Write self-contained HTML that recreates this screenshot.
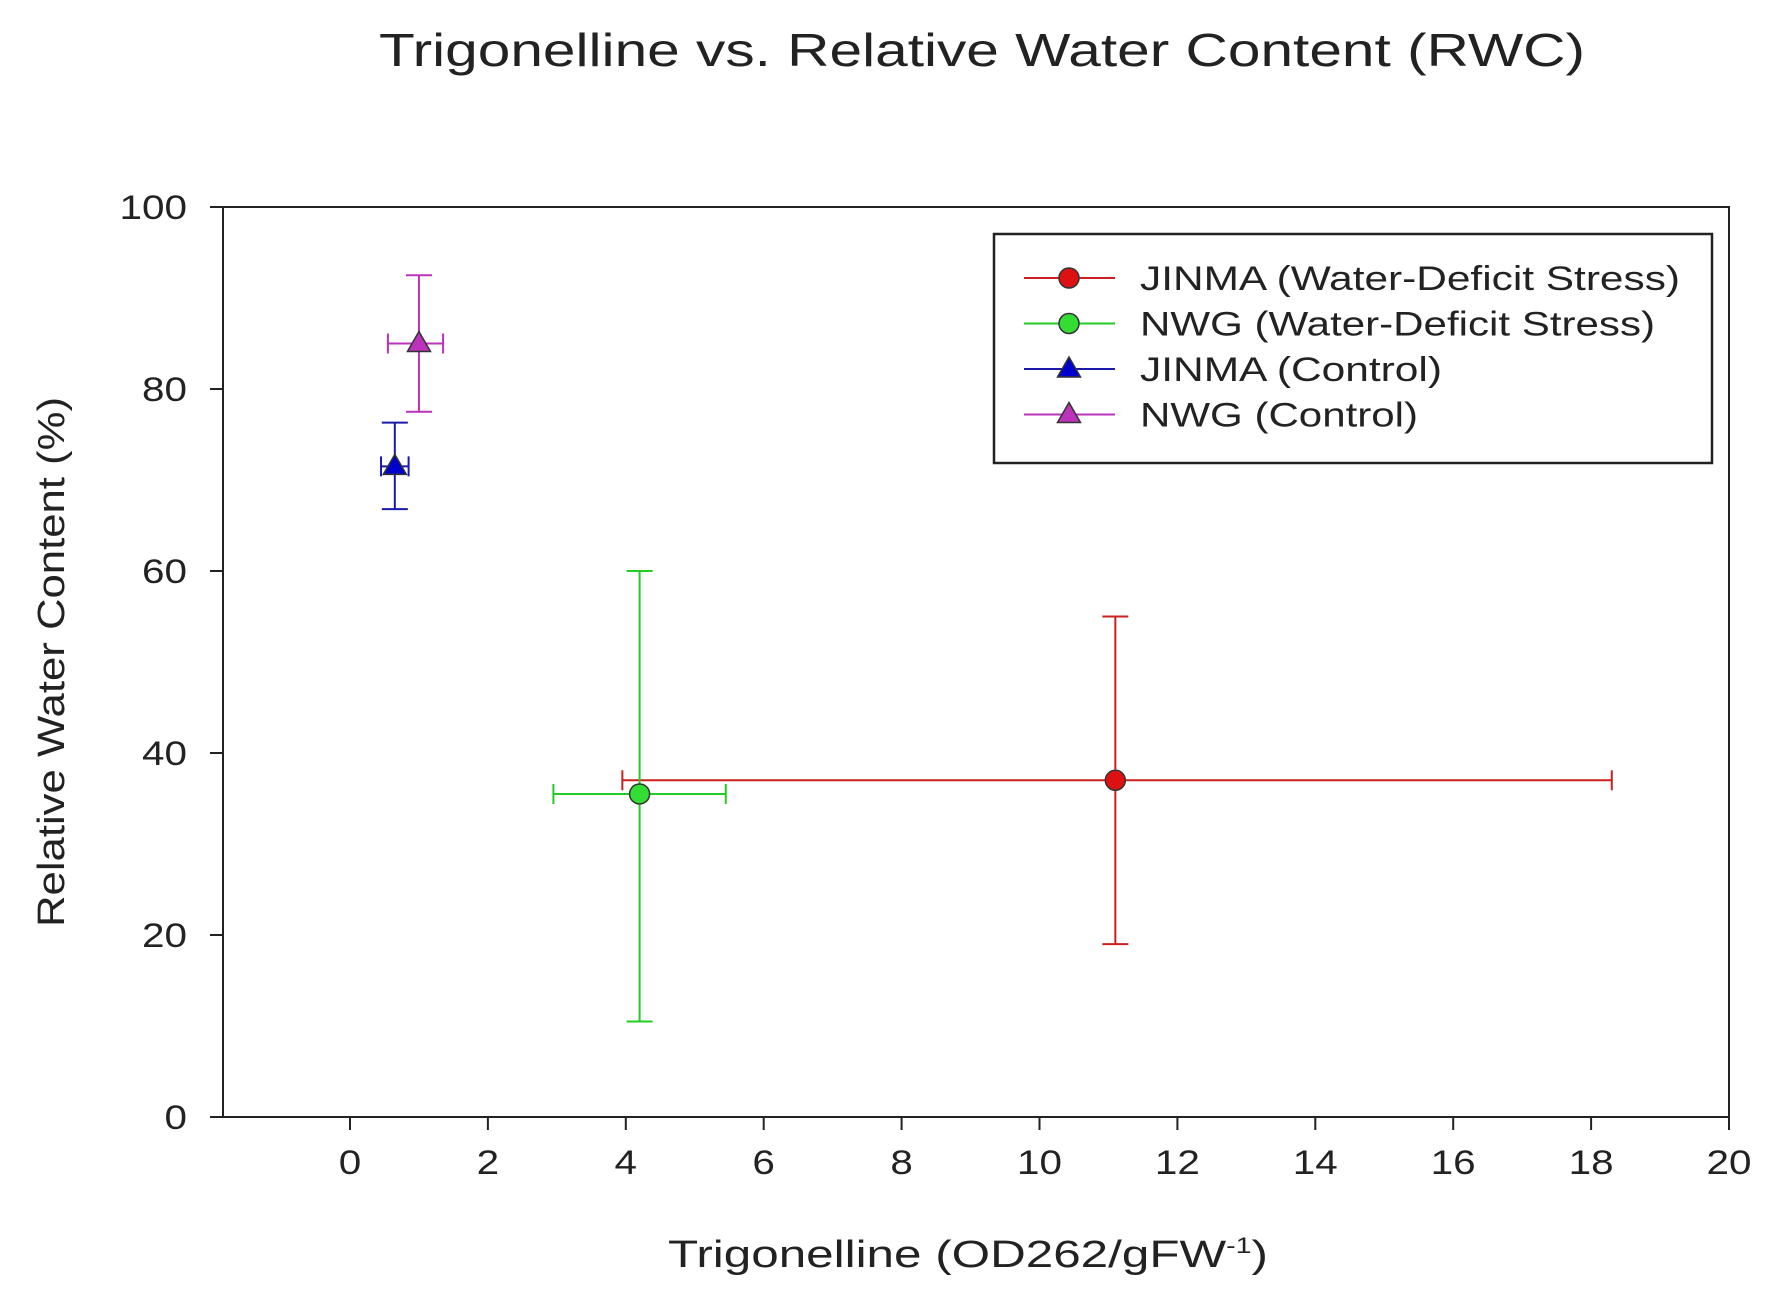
<!DOCTYPE html>
<html><head><meta charset="utf-8">
<style>
html,body{margin:0;padding:0;background:#fff;}
svg{display:block;font-family:"Liberation Sans",sans-serif;}
</style></head>
<body>
<svg id="chart" width="1766" height="1290" viewBox="0 0 1766 1290">
<text x="982" y="66" font-size="46" text-anchor="middle" textLength="1206" lengthAdjust="spacingAndGlyphs" fill="#222">Trigonelline vs. Relative Water Content (RWC)</text>
<rect x="223" y="207" width="1506" height="910" fill="none" stroke="#222" stroke-width="2"/>
<g id="axes"></g>
<g id="marks"></g>
<text x="668" y="1267" font-size="38" textLength="600" lengthAdjust="spacingAndGlyphs" fill="#222">Trigonelline (OD262/gFW<tspan dy="-14" font-size="22">-1</tspan><tspan dy="14">)</tspan></text>
<text transform="translate(64,662) rotate(-90)" font-size="38" text-anchor="middle" textLength="530" lengthAdjust="spacingAndGlyphs" fill="#222">Relative Water Content (%)</text>
<g>
<rect x="994" y="234" width="718" height="229" fill="#fff" stroke="#222" stroke-width="2.5"/>
<g id="legend-items"></g>
</g>
</svg>
<script>
const seriesNames = ["JINMA (Water-Deficit Stress)","NWG (Water-Deficit Stress)","JINMA (Control)","NWG (Control)"];
const seriesColors = ["#cc2020","#22cc22","#1a1aaa","#bb33bb"];
const seriesFill = ["#dd1111","#33dd33","#0000cc","#bb33bb"];
const seriesShapes = ["circle","circle","triangle","triangle"];
const xValues = [11.1, 4.2, 0.65, 1.0];
const yValues = [37, 35.5, 71.5, 85];
const xErrLow = [3.95, 2.95, 0.45, 0.55];
const xErrHigh = [18.3, 5.45, 0.85, 1.35];
const yErrLow = [19, 10.5, 66.8, 77.5];
const yErrHigh = [55, 60, 76.3, 92.5];
const xTicks = [0,2,4,6,8,10,12,14,16,18,20];
const yTicks = [0,20,40,60,80,100];

const NS="http://www.w3.org/2000/svg";
const X0=350, X20=1729, Y0=1117, Y100=207;
const sx=v=>X0+(X20-X0)*v/20;
const sy=v=>Y0-(Y0-Y100)*v/100;
function mk(tag,attrs,parent){const e=document.createElementNS(NS,tag);for(const k in attrs)e.setAttribute(k,attrs[k]);parent.appendChild(e);return e;}
const axes=document.getElementById('axes');
xTicks.forEach(t=>{
  const l=mk('line',{x1:sx(t),x2:sx(t),y1:Y0,y2:Y0+13,stroke:'#222','stroke-width':2},axes);
  
  
  const s=String(t);
  const tx=mk('text',{x:sx(t),y:Y0+57,'font-size':34,'text-anchor':'middle',fill:'#222',textLength:s.length*22.5,lengthAdjust:'spacingAndGlyphs'},axes);
  tx.textContent=s;
  
  
});
yTicks.forEach(t=>{
  const l=mk('line',{x1:210,x2:223,y1:sy(t),y2:sy(t),stroke:'#222','stroke-width':2},axes);
  
  
  const s=String(t);
  const tx=mk('text',{x:187,y:sy(t)+12,'font-size':34,'text-anchor':'end',fill:'#222',textLength:s.length*22.5,lengthAdjust:'spacingAndGlyphs'},axes);
  tx.textContent=s;
  
  
});
function marker(shape,cx,cy,r,fill,parent){
  if(shape==='circle') return mk('circle',{cx:cx,cy:cy,r:r,fill:fill,stroke:'#333','stroke-width':1.5},parent);
  return mk('polygon',{points:`${cx},${cy-r*1.2} ${cx-r*1.15},${cy+r*0.8} ${cx+r*1.15},${cy+r*0.8}`,fill:fill,stroke:'#333','stroke-width':1.5},parent);
}
const marks=document.getElementById('marks');
seriesNames.forEach((n,i)=>{
  const g=mk('g',{},marks);
  
  
  const c=seriesColors[i], x=sx(xValues[i]), y=sy(yValues[i]);
  const hb=mk('line',{x1:sx(xErrLow[i]),x2:sx(xErrHigh[i]),y1:y,y2:y,stroke:c,'stroke-width':2},g);
  
  
  [xErrLow[i],xErrHigh[i]].forEach(v=>{const cap=mk('line',{x1:sx(v),x2:sx(v),y1:y-10,y2:y+10,stroke:c,'stroke-width':2},g);
    
    });
  const vb=mk('line',{x1:x,x2:x,y1:sy(yErrLow[i]),y2:sy(yErrHigh[i]),stroke:c,'stroke-width':2},g);
  
  
  [yErrLow[i],yErrHigh[i]].forEach(v=>{const cap=mk('line',{x1:x-13,x2:x+13,y1:sy(v),y2:sy(v),stroke:c,'stroke-width':2},g);
    
    });
  const m=marker(seriesShapes[i],x,y,10,seriesFill[i],g);
  
  
});
const legWidths=[540,515,302,278];
const leg=document.getElementById('legend-items');
seriesNames.forEach((n,i)=>{
  const y=278+i*45.5;
  const g=mk('g',{},leg);
  
  
  mk('line',{x1:1024,x2:1115,y1:y,y2:y,stroke:seriesColors[i],'stroke-width':2},g);
  marker(seriesShapes[i],1069,y,10,seriesFill[i],g);
  const t=mk('text',{x:1140,y:y+12,'font-size':34,fill:'#222',textLength:legWidths[i],lengthAdjust:'spacingAndGlyphs'},g);
  t.textContent=n;
});
</script>
</body></html>
